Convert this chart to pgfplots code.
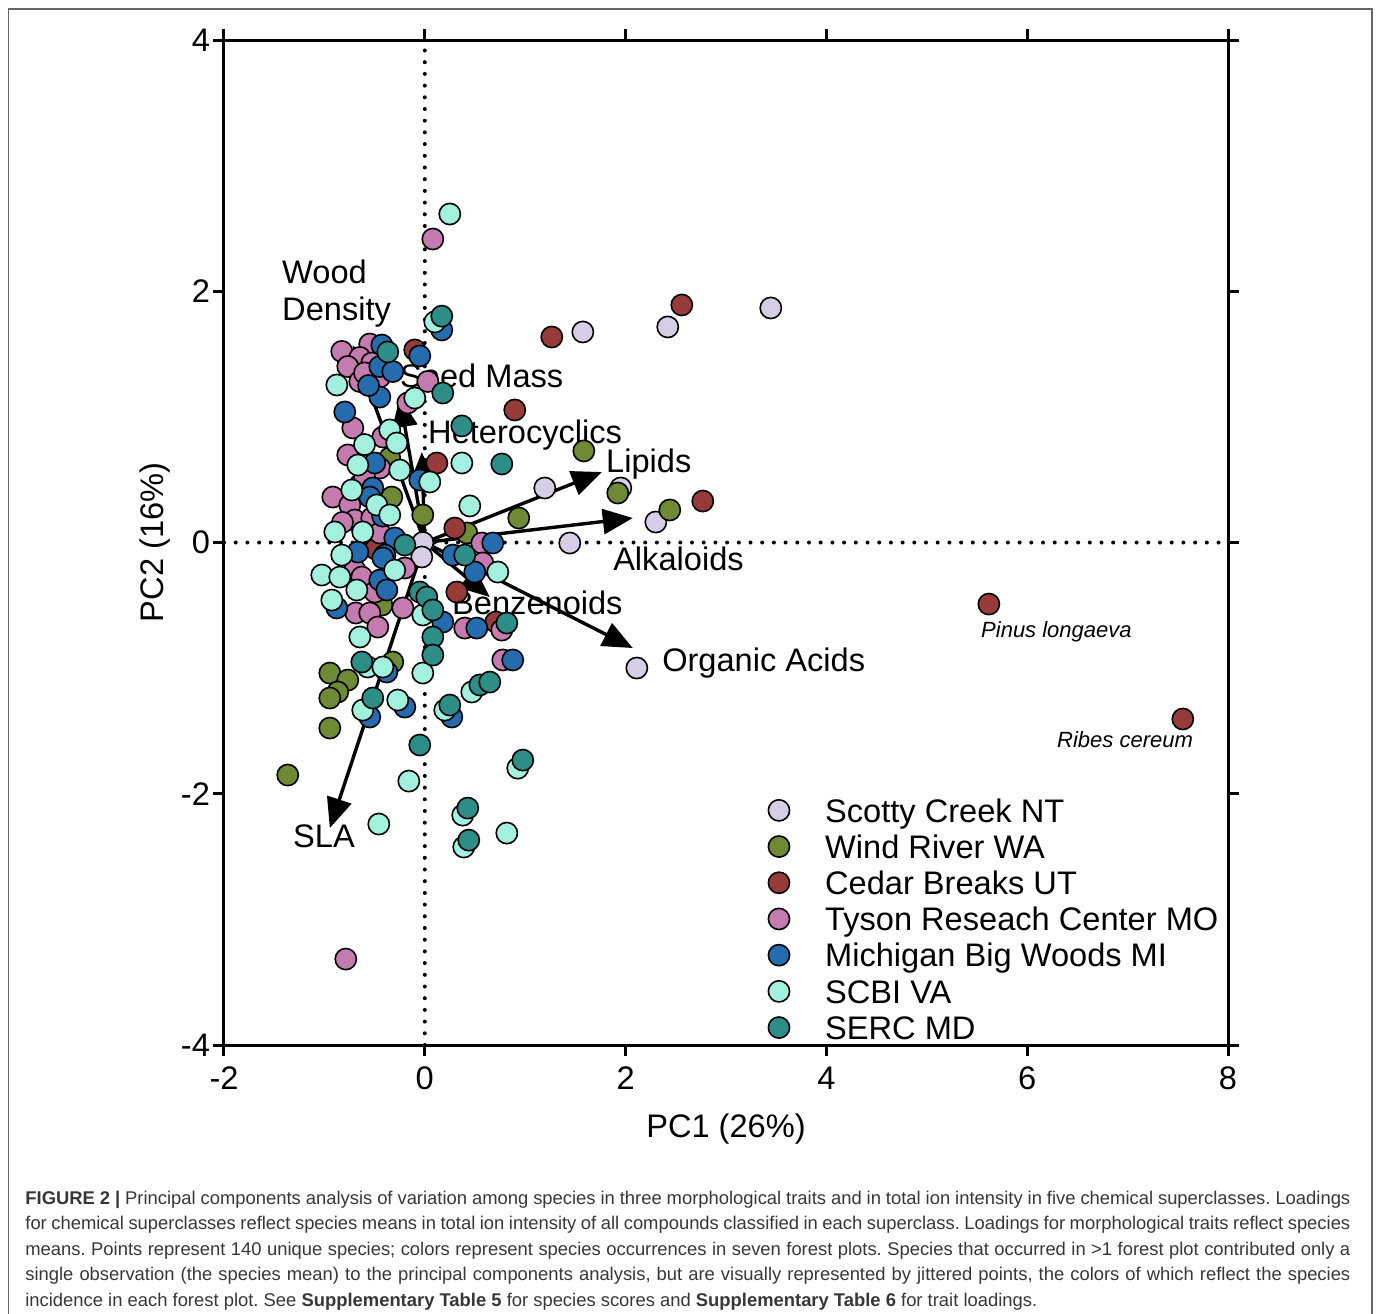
\documentclass[border=0pt]{standalone}
\usepackage{pgfplots}
\pgfplotsset{compat=1.18}
\usepackage{fontspec}
\setmainfont{Liberation Sans}
\usetikzlibrary{arrows.meta}
\newcommand\lab{\fontsize{16.3}{19}\selectfont}
\newcommand\capfont{\fontsize{9.2}{11}\selectfont\frenchspacing}
\definecolor{scotty}{RGB}{213,206,228}
\definecolor{wind}{RGB}{110,138,52}
\definecolor{cedar}{RGB}{150,58,58}
\definecolor{tyson}{RGB}{197,122,176}
\definecolor{michigan}{RGB}{37,108,175}
\definecolor{scbi}{RGB}{162,240,222}
\definecolor{serc}{RGB}{44,142,134}
\definecolor{capgray}{RGB}{55,55,55}
\pgfplotsset{
  pt/.style={only marks, mark=*, mark size=5.3pt,
    mark options={draw=black, line width=0.8pt, fill=#1}},
  load/.style={black, line width=1.7pt, forget plot,
    -{Triangle[length=15pt,width=12.5pt]}},
}
\begin{document}
\begin{tikzpicture}
\begin{axis}[
  at={(0,0)}, anchor=south west,
  width=502pt, height=502.5pt, scale only axis,
  xmin=-2, xmax=8, ymin=-4, ymax=4,
  xtick={-2,0,2,4,6,8}, ytick={-4,-2,0,2,4},
  axis line style={line width=1.5pt},
  every tick/.style={black, line width=1.5pt},
  major tick length=5.5pt, tick align=outside,
  ticklabel style={font=\lab},
  xticklabel style={yshift=-2pt},
  yticklabel style={xshift=2pt},
  /pgf/number format/assume math mode=true,
  xlabel={PC1 (26\%)}, ylabel={PC2 (16\%)},
  label style={font=\lab},
  xlabel style={at={(axis description cs:0.5,0)}, anchor=center, yshift=-42pt},
  ylabel style={at={(axis description cs:0,0.5)}, anchor=center, yshift=34.5pt},
  clip=false,
  legend cell align=left,
  legend image code/.code={\draw[#1] plot coordinates {(0pt,0pt)};},
  legend style={at={(axis cs:3.422,-2.039)}, anchor=north west,
    draw=none, fill=none, inner sep=0pt, outer sep=0pt,
    font=\lab, column sep=17.8pt, row sep=6.4pt,
    nodes={inner sep=0pt, text height=11.7pt, text depth=0pt}},
]
% Scotty Creek NT
\addplot[pt=scotty] coordinates {
(3.446,1.867) (2.420,1.716) (1.574,1.676) (1.195,0.434) (1.952,0.434)
(2.301,0.163) (1.444,-0.004) (2.112,-0.999) (-0.020,0.000) (-0.030,-0.115)
};
\addlegendentry{Scotty Creek NT}
% Wind River WA
\addplot[pt=wind] coordinates {
(1.584,0.729) (1.922,0.394) (2.440,0.259) (0.936,0.195) (0.418,0.076)
(-0.349,0.673) (-0.329,0.362) (-0.428,-0.498) (-0.319,-0.951) (-0.946,-1.039)
(-0.767,-1.095) (-0.867,-1.190) (-0.946,-1.238) (-0.946,-1.477) (-1.365,-1.851)
(-0.020,0.219)
};
\addlegendentry{Wind River WA}
% Cedar Breaks UT
\addplot[pt=cedar] coordinates {
(2.560,1.891) (1.265,1.636) (-0.100,1.533) (0.896,1.055) (0.120,0.633)
(2.769,0.330) (0.299,0.115) (-0.488,-0.052) (0.319,-0.394) (0.707,-0.633)
(5.618,-0.490) (7.550,-1.405)
};
\addlegendentry{Cedar Breaks UT}
% Tyson Research Center MO
\addplot[pt=tyson] coordinates {
(0.080,2.416) (-0.827,1.521) (-0.548,1.580) (-0.647,1.473) (-0.767,1.401)
(-0.448,1.318) (-0.528,1.429) (-0.647,1.282) (0.030,1.282) (-0.169,1.111)
(-0.717,0.912) (-0.418,0.840) (-0.767,0.697) (-0.448,0.593) (-0.647,0.458)
(-0.916,0.362) (-0.747,0.299) (-0.697,0.179) (-0.528,0.195) (-0.448,0.076)
(-0.697,-0.219) (-0.627,-0.275) (-0.498,-0.394) (-0.199,-0.203) (-0.687,-0.561)
(-0.548,-0.561) (-0.219,-0.521) (-0.468,-0.673) (0.568,-0.004) (0.578,-0.163)
(0.398,-0.681) (0.767,-0.697) (0.777,-0.935) (-0.787,-3.316)
(-0.600,1.350) (-0.820,0.160) (-0.600,0.520)
};
\addlegendentry{Tyson Reseach Center MO}
% Michigan Big Woods MI
\addplot[pt=michigan] coordinates {
(0.169,1.692) (-0.428,1.572) (-0.050,1.485) (-0.448,1.401) (-0.319,1.361)
(-0.448,1.158) (-0.797,1.039) (-0.050,0.498) (-0.518,0.434) (-0.548,0.362)
(-0.498,0.633) (-0.299,0.036) (-0.398,-0.100) (-0.667,-0.076) (-0.418,-0.123)
(-0.448,-0.299) (-0.378,-0.378) (-0.876,-0.521) (0.179,-0.633) (0.677,-0.004)
(0.498,-0.235) (0.279,-0.100) (0.518,-0.681) (0.876,-0.935) (-0.378,-1.031)
(-0.548,-1.389) (-0.199,-1.310) (0.269,-1.389)
(-0.560,1.250) (-0.420,0.210)
};
\addlegendentry{Michigan Big Woods MI}
% SCBI VA
\addplot[pt=scbi] coordinates {
(0.249,2.615) (0.100,1.756) (-0.876,1.254) (-0.100,1.150) (-0.349,0.896)
(0.369,0.633) (-0.667,0.617) (-0.249,0.577) (0.050,0.482) (0.448,0.291)
(-0.727,0.418) (-0.478,0.299) (-0.349,0.219) (-0.896,0.084) (-0.618,0.084)
(-0.827,-0.100) (-1.026,-0.259) (-0.847,-0.275) (-0.677,-0.378) (-0.926,-0.458)
(0.727,-0.235) (-0.020,-0.577) (-0.647,-0.752) (-0.568,-0.991) (-0.418,-0.991)
(-0.020,-1.039) (-0.269,-1.254) (-0.618,-1.334) (0.468,-1.190) (0.199,-1.334)
(-0.159,-1.899) (0.926,-1.796) (0.378,-2.170) (0.388,-2.424) (0.817,-2.313)
(-0.458,-2.241) (-0.279,0.792) (-0.600,0.780) (-0.300,-0.220)
};
\addlegendentry{SCBI VA}
% SERC MD
\addplot[pt=serc] coordinates {
(0.169,1.802) (-0.369,1.517) (0.179,1.190) (0.369,0.928) (0.767,0.625)
(0.398,-0.100) (-0.050,-0.394) (0.020,-0.434) (0.080,-0.537) (0.080,-0.752)
(0.080,-0.896) (0.817,-0.641) (-0.627,-0.951) (-0.518,-1.238) (0.548,-1.134)
(0.647,-1.111) (0.249,-1.294) (-0.050,-1.612) (0.976,-1.732) (0.428,-2.114)
(0.438,-2.369) (-0.199,-0.020)
};
\addlegendentry{SERC MD}
% zero lines
\addplot[black, line width=2pt, line cap=round, dash pattern=on 0pt off 5.85pt, forget plot]
  coordinates {(-2,0) (8,0)};
\addplot[black, line width=2pt, line cap=round, dash pattern=on 0pt off 5.85pt, forget plot]
  coordinates {(0,-4) (0,4)};
% loadings
\addplot[load] coordinates {(0,0) (-0.717,1.572)};
\addplot[load] coordinates {(0,0) (-0.249,1.158)};
\addplot[load] coordinates {(0,0) (-0.030,0.720)};
\addplot[load] coordinates {(0,0) (1.763,0.561)};
\addplot[load] coordinates {(0,0) (2.072,0.195)};
\addplot[load] coordinates {(0,0) (2.072,-0.840)};
\addplot[load] coordinates {(0,0) (0.647,-0.434)};
\addplot[load] coordinates {(0,0) (-0.946,-2.273)};
\begin{scope}[every node/.style={anchor=base west, inner sep=0pt, font=\lab}]
\node at (axis cs:-1.424,2.058) {Wood};
\node at (axis cs:-1.424,1.771) {Density};
\node at (axis cs:-0.249,1.230) {Seed Mass};
\node at (axis cs:0.030,0.792) {Heterocyclics};
\node at (axis cs:1.803,0.561) {Lipids};
\node at (axis cs:1.873,-0.219) {Alkaloids};
\node at (axis cs:0.269,-0.577) {Benzenoids};
\node at (axis cs:2.361,-1.023) {Organic Acids};
\node at (axis cs:-1.315,-2.424) {SLA};
\node[font=\fontsize{11}{13}\selectfont\itshape] at (axis cs:5.538,-0.760) {Pinus longaeva};
\node[font=\fontsize{11}{13}\selectfont\itshape] at (axis cs:6.295,-1.628) {Ribes cereum};
\end{scope}
\end{axis}
% outer frame
\draw[gray!80!black, line width=0.6pt] (-107.75pt,-140pt) -- (-107.75pt,518pt) -- (574pt,518pt) -- (574pt,-140pt);
% caption
\begin{scope}[every node/.style={anchor=base west, inner sep=0pt, text=capgray, font=\capfont}]
\node at (-99.5pt,-79.5pt) {\makebox[662.5pt][s]{\textbf{FIGURE 2 |} Principal components analysis of variation among species in three morphological traits and in total ion intensity in five chemical superclasses. Loadings}};
\node at (-99.5pt,-92.25pt) {\makebox[662.5pt][s]{for chemical superclasses reflect species means in total ion intensity of all compounds classified in each superclass. Loadings for morphological traits reflect species}};
\node at (-99.5pt,-105pt) {\makebox[662.5pt][s]{means. Points represent 140 unique species; colors represent species occurrences in seven forest plots. Species that occurred in >1 forest plot contributed only a}};
\node at (-99.5pt,-117.75pt) {\makebox[662.5pt][s]{single observation (the species mean) to the principal components analysis, but are visually represented by jittered points, the colors of which reflect the species}};
\node at (-99.5pt,-130.5pt) {incidence in each forest plot. See \textbf{Supplementary Table 5} for species scores and \textbf{Supplementary Table 6} for trait loadings.};
\end{scope}
\pgfresetboundingbox
\useasboundingbox (-112pt,-134pt) rectangle (578pt,522.5pt);
\end{tikzpicture}
\end{document}
